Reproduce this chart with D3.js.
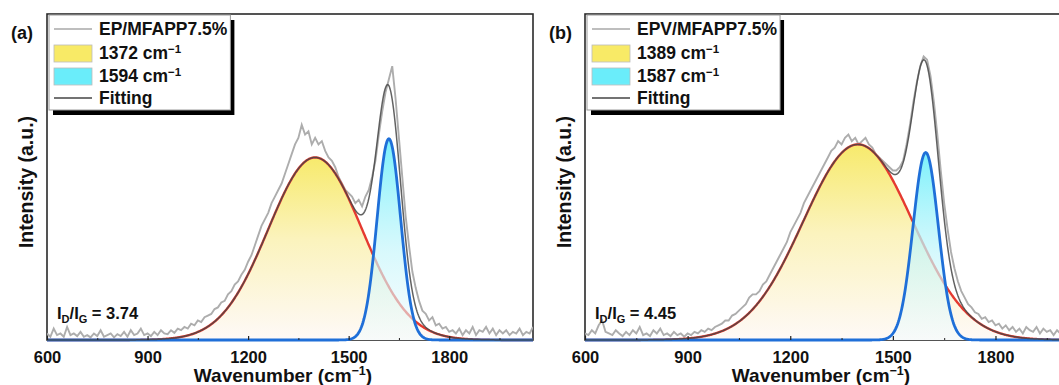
<!DOCTYPE html>
<html>
<head>
<meta charset="utf-8">
<script src="https://cdn.jsdelivr.net/npm/d3@7/dist/d3.min.js"></script>
<style>
	body { margin: 0; background: #fff; }
	svg text { font-family: "Liberation Sans", Arial, sans-serif; font-weight: bold; fill: #111; }
</style>
</head>
<body>
<svg id="chart" width="1059" height="385"></svg>
<script>
// raw Raman spectra, one value every 10 cm-1 starting at 600 cm-1
let rawA = [
	.02, .01, .035, .015, .02, .01, .04, .015, .02, .012,
	.025, .01, .015, .008, .02, .012, .03, .01, .015, .02,
	.008, .018, .012, .025, .01, .03, .015, .02, .035, .015,
	.02, .012, .025, .015, .03, .02, .018, .03, .022, .035,
	.03, .04, .035, .05, .045, .06, .055, .07, .075, .08,
	.095, .1, .115, .12, .14, .15, .17, .18, .2, .215,
	.24, .26, .29, .32, .35, .37, .39, .42, .44, .46,
	.48, .51, .54, .57, .6, .62, .66, .63, .64, .6,
	.62, .6, .61, .58, .56, .55, .53, .5, .48, .46,
	.45, .44, .42, .43, .41, .44, .46, .5, .55, .63,
	.7, .76, .8, .84, .74, .62, .5, .38, .29, .21,
	.16, .12, .09, .08, .06, .07, .045, .05, .035, .04,
	.025, .03, .02, .035, .015, .03, .02, .04, .015, .03,
	.025, .04, .02, .035, .015, .03, .02, .03, .015, .025,
	.02, .035, .015, .025, .02, .04
];
let rawB = [
	.02, .015, .03, .02, .045, .06, .025, .02, .015, .03,
	.02, .012, .025, .015, .03, .02, .04, .015, .02, .012,
	.03, .02, .035, .015, .02, .012, .025, .015, .02, .01,
	.02, .015, .025, .02, .03, .025, .035, .03, .04, .045,
	.05, .06, .06, .075, .08, .09, .1, .11, .13, .14,
	.14, .15, .17, .18, .2, .22, .24, .26, .28, .3,
	.33, .35, .37, .39, .42, .44, .46, .48, .5, .52,
	.54, .56, .58, .59, .61, .6, .62, .63, .61, .62,
	.6, .61, .62, .6, .59, .57, .56, .55, .54, .53,
	.52, .52, .53, .55, .6, .66, .73, .79, .84, .87,
	.86, .81, .73, .63, .52, .42, .34, .27, .22, .18,
	.15, .13, .11, .1, .085, .08, .065, .07, .055, .06,
	.045, .05, .035, .045, .03, .04, .025, .035, .02, .04,
	.03, .025, .04, .02, .035, .025, .03, .015, .03, .02,
	.035, .02, .03, .015, .025, .02
];

// fitted Gaussian bands (D, G)
let centersA = [1400, 1620];
let heightsA = [0.56, 0.617];
let sigmasA = [140, 35];
let centersB = [1398, 1596];
let heightsB = [0.60, 0.575];
let sigmasB = [160, 37];

let seriesA = ['EP/MFAPP7.5%', '1372', '1594', 'Fitting'];
let seriesB = ['EPV/MFAPP7.5%', '1389', '1587', 'Fitting'];
let ratioA = '3.74';
let ratioB = '4.45';

let xTicks = [600, 900, 1200, 1500, 1800];
let xMinorTicks = [750, 1050, 1350, 1650, 1950];

let svg = d3.select('#chart');
let defs = svg.append('defs');
let plotTop = 14;
let plotBottom = 340;

function gauss(c, h, s) {
	return wn => h * Math.exp(-((wn - c) * (wn - c)) / (2 * s * s));
}

function addGradient(id, y1, y2, stops) {
	let grad = defs.append('linearGradient')
		.attr('id', id)
		.attr('gradientUnits', 'userSpaceOnUse')
		.attr('x1', 0).attr('x2', 0)
		.attr('y1', y1).attr('y2', y2);
	stops.forEach(s => {
		grad.append('stop')
			.attr('offset', s[0])
			.attr('stop-color', s[1])
			.attr('stop-opacity', s[2] === undefined ? 1 : s[2]);
	});
}

function drawPanel(p) {
	let x = d3.scaleLinear().domain([600, 2050]).range([p.left, p.right]);
	let y = d3.scaleLinear().domain([0, 1]).range([plotBottom, plotTop]);
	let g = svg.append('g').attr('class', 'panel-' + p.key);

	let rawData = p.raw.map((v, i) => [600 + i * 10, v]);
	let grid = d3.range(600, 2051, 2);
	let dFn = gauss(p.centers[0], p.heights[0], p.sigmas[0]);
	let gFn = gauss(p.centers[1], p.heights[1], p.sigmas[1]);
	let dData = grid.map(w => [w, dFn(w)]);
	let gData = grid.map(w => [w, gFn(w)]);
	let fitData = grid.map(w => [w, dFn(w) + gFn(w)]);

	addGradient('dFill-' + p.key, y(p.heights[0]), y(0),
		[[0, '#f7ea6c'], [0.45, '#fbf3bd'], [1, '#fef9f7']]);
	addGradient('gFill-' + p.key, y(p.heights[1]), y(0),
		[[0, '#74f0fb', 0.95], [0.55, '#c6f6fb', 0.7], [1, '#f2fbfc', 0.55]]);

	let clipId = 'clip-' + p.key;
	defs.append('clipPath').attr('id', clipId)
		.append('rect')
		.attr('x', p.left).attr('y', plotTop)
		.attr('width', p.right - p.left).attr('height', plotBottom - plotTop + 2);

	let line = d3.line().x(d => x(d[0])).y(d => y(d[1]));
	let area = d3.area().x(d => x(d[0])).y0(y(0)).y1(d => y(d[1]));

	// frame
	g.append('rect')
		.attr('x', p.left).attr('y', plotTop)
		.attr('width', p.right - p.left).attr('height', plotBottom - plotTop)
		.attr('fill', 'none').attr('stroke', '#2a2a2a').attr('stroke-width', 1.6);

	let plot = g.append('g').attr('clip-path', 'url(#' + clipId + ')');

	plot.append('path').attr('d', area(dData)).attr('fill', 'url(#dFill-' + p.key + ')');

	plot.append('path')
		.attr('d', line(rawData))
		.attr('fill', 'none').attr('stroke', '#adadad').attr('stroke-width', 1.9)
		.attr('stroke-linejoin', 'miter');

	plot.append('path').attr('d', line(dData))
		.attr('fill', 'none').attr('stroke', '#e53a30').attr('stroke-width', 2.4);

	plot.append('path').attr('d', area(gData)).attr('fill', 'url(#gFill-' + p.key + ')');

	plot.append('path').attr('d', line(gData))
		.attr('fill', 'none').attr('stroke', '#1f6fd8').attr('stroke-width', 2.8);

	plot.append('path').attr('d', line(fitData))
		.attr('fill', 'none').attr('stroke', '#474747').attr('stroke-opacity', 0.85).attr('stroke-width', 1.5);

	// x axis with inward ticks
	let axis = g.append('g')
		.attr('transform', `translate(0,${plotBottom})`)
		.call(d3.axisBottom(x).tickValues(xTicks).tickFormat(d3.format('d'))
			.tickSizeInner(-4).tickSizeOuter(0).tickPadding(11));
	axis.select('.domain').remove();
	axis.selectAll('.tick line').attr('stroke', '#222').attr('stroke-width', 1.2);
	axis.selectAll('text').attr('font-size', 16.5).attr('font-family', null).attr('fill', '#111');

	let minor = g.append('g')
		.attr('transform', `translate(0,${plotBottom})`)
		.call(d3.axisBottom(x).tickValues(xMinorTicks).tickSizeInner(-2).tickSizeOuter(0).tickFormat(''));
	minor.select('.domain').remove();
	minor.selectAll('.tick line').attr('stroke', '#222');

	// axis titles
	let xt = g.append('text')
		.attr('x', p.left + 236).attr('y', 382)
		.attr('text-anchor', 'middle')
		.attr('font-size', 19);
	xt.append('tspan').text('Wavenumber (cm');
	xt.append('tspan').attr('dy', -7).attr('font-size', 12.5).text('\u22121');
	xt.append('tspan').attr('dy', 7).text(')');

	g.append('text')
		.attr('transform', `translate(${p.left - 21},182) rotate(-90)`)
		.attr('text-anchor', 'middle')
		.attr('dy', '0.35em')
		.attr('font-size', 19.5)
		.text('Intensity (a.u.)');

	// panel letter
	g.append('text')
		.attr('x', p.left - 36).attr('y', 39)
		.attr('font-size', 18)
		.text(p.letter);

	// I_D/I_G ratio
	let r = g.append('text')
		.attr('x', p.left + 10).attr('y', 319)
		.attr('font-size', 16.5);
	r.append('tspan').text('I');
	r.append('tspan').attr('dy', 4).attr('font-size', 11).text('D');
	r.append('tspan').attr('dy', -4).text('/I');
	r.append('tspan').attr('dy', 4).attr('font-size', 11).text('G');
	r.append('tspan').attr('dy', -4).text(' = ' + p.ratio);

	// legend
	let lg = g.append('g').attr('transform', `translate(${p.left + 2},15)`);
	let shadow = lg.append('rect').attr('fill', '#000');
	let box = lg.append('rect').attr('fill', '#fff').attr('stroke', '#9a9a9a').attr('stroke-width', 1);
	let rows = [14, 38, 61, 83];
	let maxW = 0;
	p.series.forEach((name, i) => {
		let t = lg.append('text')
			.attr('x', 50).attr('y', rows[i] + 6)
			.attr('font-size', 17.5);
		if (i === 1 || i === 2) {
			t.append('tspan').text(name + ' cm');
			t.append('tspan').attr('dy', -6).attr('font-size', 11.5).text('\u22121');
		} else {
			t.text(name);
		}
		maxW = Math.max(maxW, t.node().getComputedTextLength());
	});
	lg.append('line').attr('x1', 5).attr('x2', 43).attr('y1', rows[0]).attr('y2', rows[0])
		.attr('stroke', '#a9a9a9').attr('stroke-width', 1.5);
	lg.append('rect').attr('x', 5).attr('y', rows[1] - 8).attr('width', 38).attr('height', 17)
		.attr('fill', 'url(#legD-' + p.key + ')').attr('stroke', '#bbb').attr('stroke-width', 0.8);
	lg.append('rect').attr('x', 5).attr('y', rows[2] - 8).attr('width', 38).attr('height', 17)
		.attr('fill', 'url(#legG-' + p.key + ')').attr('stroke', '#bbb').attr('stroke-width', 0.8);
	lg.append('line').attr('x1', 5).attr('x2', 43).attr('y1', rows[3]).attr('y2', rows[3])
		.attr('stroke', '#444').attr('stroke-width', 1.5);
	addGradient('legD-' + p.key, 15 + rows[1] - 8, 15 + rows[1] + 9, [[0, '#f8ea66'], [1, '#fdf8f4']]);
	addGradient('legG-' + p.key, 15 + rows[2] - 8, 15 + rows[2] + 9, [[0, '#6aedfa'], [1, '#f2fbfd']]);

	let bw = 50 + maxW + 3;
	let bh = 95;
	shadow.attr('x', 4).attr('y', 5).attr('width', bw).attr('height', bh);
	box.attr('x', 0).attr('y', 0).attr('width', bw).attr('height', bh);
}

drawPanel({ key: 'a', left: 47, right: 533, raw: rawA, centers: centersA, heights: heightsA, sigmas: sigmasA,
	series: seriesA, ratio: ratioA, letter: '(a)' });
drawPanel({ key: 'b', left: 585, right: 1081, raw: rawB, centers: centersB, heights: heightsB, sigmas: sigmasB,
	series: seriesB, ratio: ratioB, letter: '(b)' });
</script>
</body>
</html>
